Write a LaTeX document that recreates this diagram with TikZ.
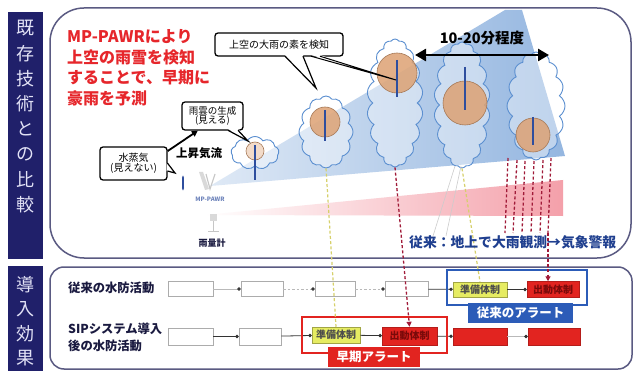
\documentclass[tikz,border=0pt]{standalone}
\usepackage{fontspec}
\setmainfont{Noto Sans CJK JP}
\usetikzlibrary{shapes.symbols,arrows.meta}
\newcommand\jpsize[1]{\fontsize{#1}{#1}\selectfont}

\definecolor{navy}{HTML}{20206A}
\definecolor{barfg}{HTML}{E2E2F6}
\definecolor{panelc}{HTML}{5A5A82}
\definecolor{redtext}{HTML}{E6262B}
\definecolor{beamblue}{HTML}{94B6E0}
\definecolor{pinkbeam}{HTML}{F4A0AA}
\definecolor{cloudc}{HTML}{5B8FD0}
\definecolor{rainorange}{HTML}{DDA274}
\definecolor{updraftc}{HTML}{2E4E9E}
\definecolor{yboxc}{HTML}{E6EC62}
\definecolor{rboxc}{HTML}{E22420}
\definecolor{rtxt}{HTML}{7A0A0A}
\definecolor{alertblue}{HTML}{2C5CB8}
\definecolor{rdash}{HTML}{A01A38}
\definecolor{ydashc}{HTML}{D6D06A}
\definecolor{oldtext}{HTML}{1F3F8F}
\definecolor{labelc}{HTML}{1A1A40}

\begin{document}
\begin{tikzpicture}[x=1pt,y=-1pt,
  bartext/.style={text=barfg, font=\jpsize{18}, inner sep=0},
  panel/.style={draw=panelc, line width=1.5pt},
  cloudn/.style={cloud, cloud puffs=#1, cloud puff arc=115, cloud ignores aspect,
    draw=cloudc, line width=0.9pt, fill=white, fill opacity=0.4, inner sep=0},
  rainc/.style={circle, inner sep=0, fill=rainorange, fill opacity=0.85,
    draw=rainorange!75!black, line width=0.6pt},
  updraft/.style={draw=updraftc, line width=1.1pt},
  bubble/.style={draw=black, line width=1.3pt, rounded corners=3pt, fill=white,
    align=center, inner sep=1pt, font=\jpsize{9.5}},
  tail/.style={draw=black, line width=1.2pt, line join=miter},
  redtxt/.style={anchor=west, inner sep=0, text=redtext, font=\jpsize{16}\bfseries},
  rowlabel/.style={anchor=west, inner sep=0, text=labelc, font=\jpsize{12.3}\bfseries},
  wbox/.style={draw=gray!65, line width=0.7pt, fill=white, minimum height=15pt, inner sep=0},
  ybox/.style={fill=yboxc, draw=yboxc!70!black, line width=0.5pt, minimum width=52pt,
    minimum height=15pt, inner sep=0, font=\jpsize{10}\bfseries, text=black!70},
  rbox/.style={fill=rboxc, draw=rboxc!80!black, line width=0.5pt, minimum height=16pt,
    inner sep=0, font=\jpsize{10}\bfseries, text=rtxt},
  flow/.style={-{Circle[length=3.4pt]}, line width=0.8pt, draw=black!80},
  flowl/.style={-{Circle[length=3.4pt,black!80]}, line width=0.7pt, draw=gray!55},
  flowld/.style={flowl, dash pattern=on 2.5pt off 2pt},
  alert/.style={font=\jpsize{12.5}\bfseries, text=white, inner sep=0, minimum height=20pt},
  reddash/.style={draw=rdash, line width=1.3pt, dash pattern=on 3pt off 2.2pt},
  ydash/.style={draw=ydashc, line width=1.2pt, dash pattern=on 3pt off 2.2pt},
]
\useasboundingbox (0,0) rectangle (636,371);
\fill[white] (0,0) rectangle (636,371);

% ---- side bars ----
\fill[navy] (8,12) rectangle (43,259);
\fill[navy] (8,266) rectangle (43,371);
\foreach \c [count=\i] in {既,存,技,術,と,の,比,較}
  \node[bartext] (s\i) at (25.5,{28+25.3*(\i-1)}) {\c};
\foreach \c [count=\i] in {導,入,効,果}
  \node[bartext] (t\i) at (25.5,{285+24.3*(\i-1)}) {\c};

% ---- panels ----
\draw[panel, rounded corners=34pt] (50,8) rectangle (631,258);
\draw[panel, rounded corners=14pt] (50,267) rectangle (632,369);

% ---- radar beam and rain-gauge range ----
\shade[left color=beamblue!30, right color=beamblue] (210,186) -- (505,10) -- (522,10) -- (565,156) -- cycle;
\shade[left color=white, right color=pinkbeam] (205,215) -- (563,180) -- (563,216) -- cycle;

% ---- clouds ----
\node[cloudn=9,  minimum width=48pt, minimum height=33pt]  (c1) at (255,153) {};
\node[cloudn=12, minimum width=54pt, minimum height=72pt]  (c2) at (326,132) {};
\node[cloudn=18, minimum width=56pt, minimum height=128pt] (c3) at (395,103) {};
\node[cloudn=18, minimum width=56pt, minimum height=126pt] (c4) at (462,105) {};
\node[cloudn=16, minimum width=58pt, minimum height=108pt] (c5) at (536,106) {};

% rain cores inside the clouds
\node[rainc, minimum size=18pt, fill=rainorange!45] (o1) at (255,151) {};
\node[rainc, minimum size=30pt] (o2) at (325,122) {};
\node[rainc, minimum size=40pt] (o3) at (397,73) {};
\node[rainc, minimum size=44pt] (o4) at (465,103) {};
\node[rainc, minimum size=34pt] (o5) at (533,135) {};

% updraft lines
\draw[updraft] (255,145) -- (255,180);
\draw[updraft] (325,110) -- (325,141);
\draw[updraft] (397,60) -- (397,97);
\draw[updraft] (465,67) -- (465,110);
\draw[updraft] (533,117) -- (533,145);

% ---- instruments ----
\draw[updraft, {Latex[length=3pt]}-{Latex[length=3pt]}] (183,175) -- (183,191);
\fill[gray!30] (199,172) -- (203,172) -- (209,189) -- (205,190) -- cycle;
\draw[gray!45, line width=1.1pt] (206,174) -- (210,189) -- (215,174);
\node[inner sep=0, text=updraftc!70, font=\jpsize{6}\bfseries] (mp) at (210,199) {MP-PAWR};
\fill[gray!30] (210,214) rectangle (217,221);
\draw[gray!45, line width=0.9pt] (213.5,221) -- (213.5,231) (208,231) -- (219,231);
\node[inner sep=0, text=labelc, font=\jpsize{9}\bfseries] (rg) at (212,243) {雨量計};

% ---- callouts ----
\node[bubble, minimum width=61pt, minimum height=28pt] (us) at (212.5,116) {雨雲の生成\\(見える)};
\fill[white] (228,129) -- (248,141) -- (238,129) -- cycle;
\draw[tail] (228,130.3) -- (248,141) -- (238,130.3);

\node[bubble, minimum width=67pt, minimum height=33pt, font=\jpsize{10}] (wv) at (133.5,163.5) {水蒸気\\(見えない)};
\fill[white] (166.5,163) -- (175,173) -- (166.5,171) -- cycle;
\draw[tail] (167.4,163) -- (175,173) -- (167.4,171);

\draw[line width=1.8pt, -{Triangle[length=6pt,width=6pt]}] (wv.20) -- (us.225);
\node[inner sep=0, font=\jpsize{11.5}\bfseries] (up) at (199,153) {上昇気流};

\node[bubble, minimum width=128pt, minimum height=23pt, font=\jpsize{10}] (kd) at (279,44.5) {上空の大雨の素を検知};
\fill[white] (285,55) -- (316,88) -- (303,55) -- cycle;
\draw[tail] (285,56.2) -- (316,88) -- (303,56.2);
\fill[white] (311,55) -- (396,80) -- (320,55) -- cycle;
\draw[tail, line width=1pt] (311,56.2) -- (396,80) -- (320,56.2);

% ---- headline ----
\node[redtxt] (rt1) at (67,37) {MP-PAWRにより};
\node[redtxt] (rt2) at (67,57) {上空の雨雪を検知};
\node[redtxt] (rt3) at (67,77.5) {することで、早期に};
\node[redtxt] (rt4) at (67,98) {豪雨を予測};

% ---- lead time ----
\coordinate (ll) at (415,55);
\coordinate (lr) at (549,55);
\draw[line width=2.6pt, {Triangle[length=11pt,width=12pt]}-{Triangle[length=11pt,width=12pt]}] (ll) -- (lr);
\node[inner sep=0, font=\jpsize{14.5}\bfseries] (lt) at (482,38) {10-20分程度};

% ---- lower panel: flood-fighting timeline ----
\node[rowlabel] (l1) at (68,288) {従来の水防活動};
\node[rowlabel] (l2) at (68,329) {SIPシステム導入};
\node[rowlabel] (l3) at (68,346) {後の水防活動};

\node[wbox, minimum width=45pt] (a1) at (190.5,289) {};
\node[wbox, minimum width=42pt] (a2) at (262,289) {};
\node[wbox, minimum width=40pt] (a3) at (335,289) {};
\node[wbox, minimum width=43pt] (a4) at (406.5,289) {};
\node[ybox, minimum width=54pt] (ay) at (480,289.5) {準備体制};
\node[rbox, minimum width=52pt] (ar) at (553,289.5) {出動体制};

\node[wbox, minimum width=45pt, minimum height=17pt] (b1) at (190.5,336.5) {};
\node[wbox, minimum width=42pt, minimum height=17pt] (b2) at (260,336.5) {};
\node[ybox, minimum width=48pt, minimum height=16pt] (by) at (336,335) {準備体制};
\node[rbox, minimum width=55pt, minimum height=18pt] (br) at (409.5,336) {出動体制};
\node[rbox, minimum width=54pt, minimum height=17pt] (b3) at (480,336.5) {};
\node[rbox, minimum width=52pt, minimum height=17pt] (b4) at (554,336.5) {};

\draw[flowl]  (a1) -- (a2);
\draw[flowld] (a2) -- (a3);
\draw[flowld] (a3) -- (a4);
\draw[flow]   (a4) -- (ay);
\draw[flow]   (ay) -- (ar);

\draw[flow]  (b1) -- (b2);
\draw[flow]  (b2) -- (by);
\draw[flow]  (by) -- (br);
\draw[flow]  (br) -- (b3);
\draw[flowl] (b3) -- (b4);

% alert frames
\draw[draw=alertblue, line width=1.8pt] (447,270) rectangle (587,305);
\node[alert, fill=alertblue, minimum width=105pt] (ab) at (520.5,312.5) {従来のアラート};
\draw[draw=rboxc, line width=1.8pt] (302,317) rectangle (447,353);
\node[alert, fill=rboxc, minimum width=92pt] (ae) at (374,357) {早期アラート};

% ---- links from clouds to activities ----
\draw[ydash] (c2.south) -- (by.north);
\draw[reddash, -{Triangle[length=5pt,width=5pt]}] (c3.south) -- (br.north);
\draw[ydash] (c4.south) -- (ay.north);
\draw[gray!40, line width=0.6pt] (455,166) -- (433,236) (461,166) -- (446,236);
\foreach \xb [count=\k] in {505,513,522,531,540,548}
  \coordinate (g\k) at (\xb,233);
\draw[reddash] (508,158) -- (g1) (517,160) -- (g2) (525,161) -- (g3)
               (534,161) -- (g4) (543,160) -- (g5) (551,158) -- (g6);
\draw[reddash, -{Triangle[length=5pt,width=5pt]}] (g6) -- (ar.north -| g6);

\node[anchor=west, inner sep=0, text=oldtext, font=\jpsize{13.8}\bfseries] (old) at (409,242)
  {従来：地上で大雨観測→気象警報};
\end{tikzpicture}
\end{document}
